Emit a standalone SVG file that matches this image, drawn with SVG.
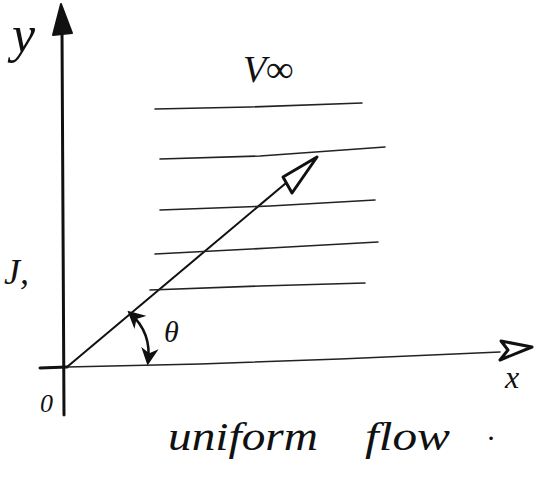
<svg xmlns="http://www.w3.org/2000/svg" width="545" height="485" viewBox="0 0 545 485">
<style>
.ax{stroke:#111;stroke-width:3;fill:none;stroke-linecap:round}
.ln{stroke:#222;stroke-width:1.6;fill:none;stroke-linecap:round}
.vec{stroke:#111;stroke-width:2;fill:none}
.t{font-family:"Liberation Serif",serif;font-style:italic;fill:#111}
</style>
<defs>
<marker id="arc" viewBox="0 0 10 10" refX="8" refY="5" markerWidth="7" markerHeight="7" orient="auto-start-reverse">
<path d="M0,0 L10,5 L0,10 L3,5 Z" fill="#111"/>
</marker>
</defs>
<rect width="545" height="485" fill="#fff"/>
<g id="connectors">
<!-- y axis -->
<path class="ax" d="M62,30 L64,415"/>
<path d="M61,4 L53,35 L72,33 Z" fill="#111" stroke="#111" stroke-width="2" stroke-linejoin="round"/>
<!-- x axis -->
<path class="ax" d="M40,368 L67,367" stroke-width="4"/>
<path class="ln" d="M67,367 L200,364 L340,359 L500,352" stroke-width="2.2"/>
<path d="M532,347 L501,341 L508,350 L500,360 Z" fill="#fff" stroke="#111" stroke-width="3" stroke-linejoin="round"/>
<!-- velocity vector -->
<path class="vec" d="M67,367 L317,157"/>
<path d="M317,157 L283,177 L292,193 Z" fill="#fff" stroke="#111" stroke-width="3" stroke-linejoin="round"/>
<!-- streamlines -->
<path class="ln" d="M155,109 L250,107 L362,103"/>
<path class="ln" d="M160,159 L260,156 L385,147"/>
<path class="ln" d="M160,210 L270,206 L375,200"/>
<path class="ln" d="M155,254 L270,248 L378,242"/>
<path class="ln" d="M150,290 L260,286 L365,283"/>
<!-- angle arc -->
<path d="M130,313 Q152,333 148,362" stroke="#111" stroke-width="2.5" fill="none" marker-start="url(#arc)" marker-end="url(#arc)"/>
</g>
<g id="labels">
<text class="t" x="12" y="52" font-size="52">y</text>
<text class="t" x="243" y="82" font-size="38">V∞</text>
<text class="t" x="164" y="342" font-size="30">θ</text>
<text class="t" x="40" y="412" font-size="26">0</text>
<text class="t" x="505" y="388" font-size="32">x</text>
<text class="t" x="4" y="284" font-size="36">J,</text>
<text class="t" x="168" y="450" font-size="40" textLength="150" lengthAdjust="spacingAndGlyphs">uniform</text>
<text class="t" x="365" y="450" font-size="40" textLength="85" lengthAdjust="spacingAndGlyphs">flow</text>
<text class="t" x="488" y="440" font-size="30">.</text>
</g>
</svg>
